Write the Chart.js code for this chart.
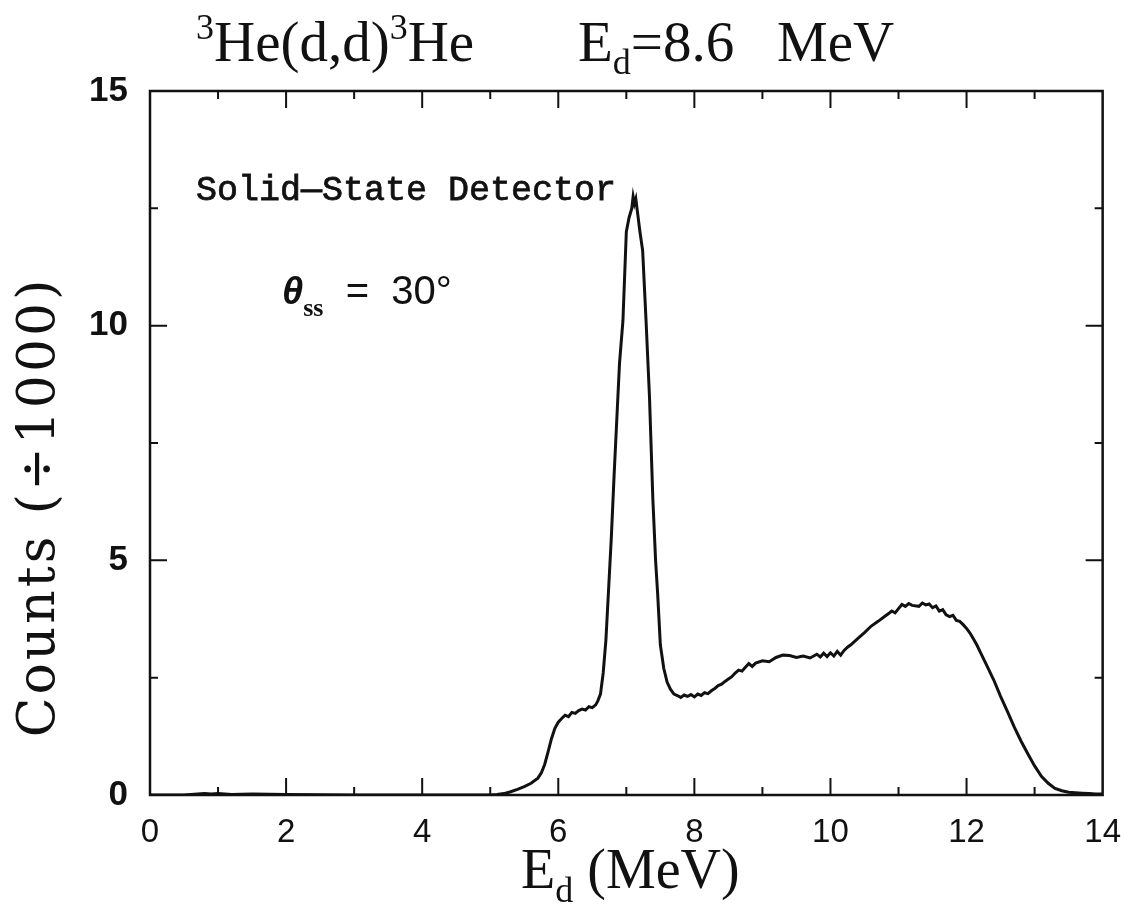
<!DOCTYPE html>
<html>
<head>
<meta charset="utf-8">
<title>3He(d,d)3He spectrum</title>
<script src="https://cdn.jsdelivr.net/npm/chart.js@4"></script>
<style>
  html, body { margin: 0; padding: 0; background: #fff; }
  #wrap { width: 1131px; height: 907px; position: relative; }
</style>
</head>
<body>
<div id="wrap"><canvas id="spectrum"></canvas></div>
<script>
// deuteron energy (MeV) and counts (/1000), read channel by channel
const energy = [
  0, 0.5, 0.7, 0.8, 0.9, 1.0, 1.2, 1.5, 2.0, 3.0, 4.0, 5.0,
  5.1, 5.2, 5.3, 5.4, 5.5, 5.6, 5.7, 5.75, 5.8, 5.85, 5.9, 5.95,
  6.0, 6.05, 6.1, 6.15, 6.2, 6.25, 6.3, 6.35, 6.4, 6.45, 6.5, 6.55,
  6.58, 6.62, 6.66, 6.7, 6.74, 6.78, 6.82, 6.86, 6.9, 6.95, 7.0, 7.04,
  7.08, 7.1, 7.12, 7.14, 7.17, 7.2, 7.24, 7.29, 7.34, 7.39, 7.43, 7.46,
  7.5, 7.55, 7.6, 7.65, 7.7, 7.75, 7.8, 7.85, 7.9, 7.95, 8.0, 8.05,
  8.1, 8.15, 8.2, 8.25, 8.3, 8.35, 8.4, 8.45, 8.5, 8.55, 8.6, 8.65,
  8.7, 8.75, 8.8, 8.85, 8.9, 9.0, 9.1, 9.2, 9.3, 9.4, 9.5, 9.6,
  9.7, 9.8, 9.85, 9.9, 9.95, 10.0, 10.05, 10.1, 10.15, 10.2, 10.25, 10.3,
  10.4, 10.5, 10.6, 10.7, 10.8, 10.85, 10.9, 10.95, 11.0, 11.05, 11.1, 11.15,
  11.2, 11.3, 11.35, 11.4, 11.45, 11.5, 11.55, 11.6, 11.65, 11.7, 11.75, 11.8,
  11.85, 11.9, 11.95, 12.0, 12.05, 12.1, 12.15, 12.2, 12.3, 12.4, 12.5, 12.6,
  12.7, 12.8, 12.9, 13.0, 13.1, 13.2, 13.3, 13.4, 13.5, 13.6, 13.7, 13.8,
  13.9, 14.0
];
const counts = [
  0, 0, 0.02, 0.03, 0.02, 0.03, 0.01, 0.02, 0.01, 0, 0, 0,
  0.01, 0.03, 0.07, 0.12, 0.18, 0.25, 0.36, 0.47, 0.65, 0.92, 1.20, 1.42,
  1.55, 1.63, 1.70, 1.67, 1.76, 1.74, 1.80, 1.83, 1.81, 1.88, 1.86, 1.92,
  2.00, 2.15, 2.60, 3.30, 4.40, 5.50, 6.80, 8.00, 9.20, 10.1, 12.0, 12.3,
  12.5, 12.75, 12.6, 12.7, 12.35, 12.0, 11.6, 10.1, 8.50, 6.30, 5.00, 4.30,
  3.20, 2.70, 2.40, 2.25, 2.15, 2.12, 2.08, 2.13, 2.10, 2.14, 2.09, 2.15,
  2.12, 2.18, 2.16, 2.22, 2.27, 2.33, 2.36, 2.42, 2.47, 2.52, 2.60, 2.66,
  2.64, 2.72, 2.80, 2.74, 2.81, 2.86, 2.84, 2.93, 2.98, 2.97, 2.93, 2.96,
  2.92, 3.00, 2.94, 3.02, 2.95, 3.03, 2.96, 3.06, 2.98, 3.08, 3.15, 3.20,
  3.33, 3.46, 3.60, 3.70, 3.81, 3.86, 3.92, 3.88, 3.97, 4.06, 4.02, 4.08,
  4.04, 4.02, 4.09, 4.05, 4.07, 3.99, 4.03, 3.92, 3.95, 3.84, 3.80, 3.83,
  3.72, 3.70, 3.63, 3.55, 3.45, 3.33, 3.20, 3.05, 2.75, 2.45, 2.10, 1.78,
  1.45, 1.15, 0.88, 0.62, 0.40, 0.25, 0.14, 0.09, 0.06, 0.05, 0.04, 0.03,
  0.02, 0.02
];

const xMin = 0, xMax = 14, xMajor = 2, xMinor = 1;
const yMin = 0, yMax = 15, yMajor = 5, yMinor = 2.5;

const points = energy.map((e, i) => ({ x: e, y: counts[i] }));

// draw a run of text pieces with different fonts / baseline shifts
function richWidth(ctx, parts) {
  let w = 0;
  parts.forEach(p => { ctx.font = p.font; w += ctx.measureText(p.t).width; });
  return w;
}
function drawRich(ctx, x, y, parts) {
  parts.forEach(p => {
    ctx.font = p.font;
    ctx.fillText(p.t, x, y + (p.dy || 0));
    x += ctx.measureText(p.t).width;
  });
}

const big = '57px "Liberation Serif"';
const sup = '36px "Liberation Serif"';

// inward tick marks on all four sides, plus the frame
const frameTicks = {
  id: 'frameTicks',
  afterDraw(chart) {
    const { ctx, chartArea: a, scales: { x, y } } = chart;
    ctx.save();
    ctx.strokeStyle = '#111';
    ctx.lineWidth = 2.5;
    ctx.strokeRect(a.left, a.top, a.right - a.left, a.bottom - a.top);
    ctx.lineWidth = 2;
    ctx.beginPath();
    for (let v = xMin + xMinor; v < xMax; v += xMinor) {
      const px = x.getPixelForValue(v);
      const len = (v % xMajor === 0) ? 17 : 8;
      ctx.moveTo(px, a.bottom); ctx.lineTo(px, a.bottom - len);
      ctx.moveTo(px, a.top); ctx.lineTo(px, a.top + len);
    }
    for (let v = yMin + yMinor; v < yMax; v += yMinor) {
      const py = y.getPixelForValue(v);
      const len = (v % yMajor === 0) ? 17 : 8;
      ctx.moveTo(a.left, py); ctx.lineTo(a.left + len, py);
      ctx.moveTo(a.right, py); ctx.lineTo(a.right - len, py);
    }
    ctx.stroke();
    ctx.restore();
  }
};

// titles, axis names and notes inside the frame
const labels = {
  id: 'labels',
  afterDraw(chart) {
    const { ctx, chartArea: a } = chart;
    ctx.save();
    ctx.fillStyle = '#111';
    ctx.textBaseline = 'alphabetic';
    ctx.textAlign = 'left';

    drawRich(ctx, 196, 61, [
      { t: '3', font: sup, dy: -22 },
      { t: 'He(d,d)', font: big },
      { t: '3', font: sup, dy: -22 },
      { t: 'He', font: big }
    ]);
    drawRich(ctx, 578, 61, [
      { t: 'E', font: big },
      { t: 'd', font: sup, dy: 13 },
      { t: '=8.6   MeV', font: big }
    ]);

    // x axis name
    const xParts = [
      { t: 'E', font: '56px "Liberation Serif"' },
      { t: 'd', font: '36px "Liberation Serif"', dy: 14 },
      { t: ' (MeV)', font: '56px "Liberation Serif"' }
    ];
    const cx = (a.left + a.right) / 2;
    drawRich(ctx, cx - richWidth(ctx, xParts) / 2 + 4, 888, xParts);

    // y axis name
    ctx.save();
    ctx.translate(40, 507);
    ctx.rotate(-Math.PI / 2);
    ctx.textAlign = 'center';
    ctx.textBaseline = 'middle';
    ctx.font = '52px "DejaVu Serif"';
    ctx.letterSpacing = '3px';
    ctx.fillText('Counts (\u00F71000)', 0, 0);
    ctx.restore();

    ctx.font = '35px "Liberation Mono"';
    ctx.lineWidth = 0.8;
    ctx.strokeStyle = '#111';
    ctx.fillText('Solid\u2014State Detector', 196, 200);
    ctx.strokeText('Solid\u2014State Detector', 196, 200);

    drawRich(ctx, 282, 304, [
      { t: '\u03B8', font: 'italic bold 38px "Liberation Sans"' },
      { t: 'ss', font: 'bold 26px "Liberation Serif"', dy: 12 },
      { t: '  =  30\u00B0', font: '40px "Liberation Sans"' }
    ]);
    ctx.restore();
  }
};

new Chart(document.getElementById('spectrum'), {
  type: 'line',
  data: {
    datasets: [{
      data: points,
      borderColor: '#111',
      borderWidth: 3,
      pointRadius: 0,
      tension: 0,
      fill: false
    }]
  },
  options: {
    responsive: true,
    maintainAspectRatio: false,
    animation: false,
    layout: { padding: { left: 0, right: 19, top: 91, bottom: 0 } },
    plugins: { legend: { display: false }, tooltip: { enabled: false } },
    scales: {
      x: {
        type: 'linear',
        min: xMin,
        max: xMax,
        grid: { display: false },
        border: { display: false },
        ticks: {
          stepSize: xMajor,
          color: '#111',
          padding: 10,
          maxRotation: 0,
          font: { family: 'Liberation Sans', size: 33 }
        },
        afterFit(scale) { scale.height = 112; }
      },
      y: {
        min: yMin,
        max: yMax,
        grid: { display: false },
        border: { display: false },
        ticks: {
          stepSize: yMajor,
          color: '#111',
          padding: 14,
          font: { family: 'Liberation Sans', size: 35, weight: 'bold' }
        },
        afterFit(scale) { scale.width = 150; }
      }
    }
  },
  plugins: [frameTicks, labels]
});
</script>
</body>
</html>
